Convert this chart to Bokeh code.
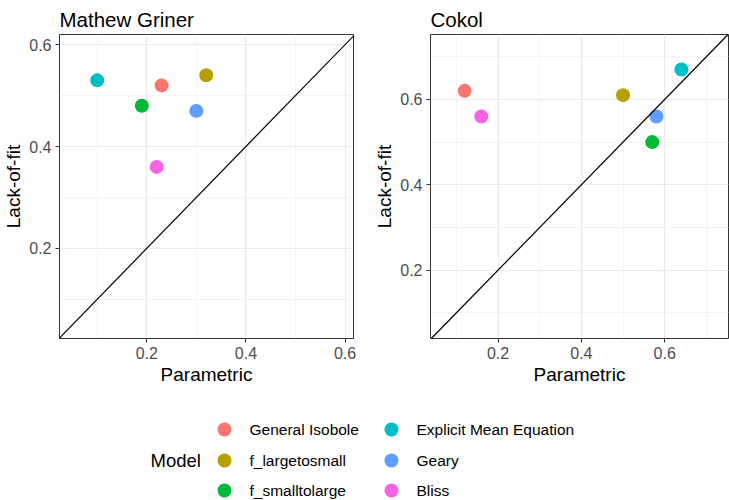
from bokeh.plotting import figure
from bokeh.models import Range1d, FixedTicker, Slope, ColumnDataSource
from bokeh.layouts import row, column
from bokeh.embed import file_html
from bokeh.resources import INLINE
from bokeh.core.properties import value

# ---------------- data ----------------
models = ["General Isobole", "f_largetosmall", "f_smalltolarge",
          "Explicit Mean Equation", "Geary", "Bliss"]
colors = ["#F8766D", "#B79F00", "#00BA38", "#00BFC4", "#619CFF", "#F564E3"]

mg_parametric = [0.23, 0.32, 0.19, 0.10, 0.30, 0.22]
mg_lackoffit = [0.52, 0.54, 0.48, 0.53, 0.47, 0.36]

ck_parametric = [0.12, 0.50, 0.57, 0.64, 0.58, 0.16]
ck_lackoffit = [0.62, 0.61, 0.50, 0.67, 0.56, 0.56]

major_ticks = [0.2, 0.4, 0.6]
minor_ticks = [0.1, 0.3, 0.5, 0.7]

FONT = "Liberation Sans"
FH = 304
TOP = 34
BOTTOM = 52


def panel(title, xs, ys, xr, yr, fw, bl, br):
    p = figure(width=bl + fw + br, height=TOP + FH + BOTTOM,
               output_backend="svg", toolbar_location=None,
               x_range=Range1d(*xr), y_range=Range1d(*yr), title=title,
               min_border_left=bl, min_border_right=br,
               min_border_top=TOP, min_border_bottom=BOTTOM)
    p.title.text_font = FONT
    p.title.text_font_size = "20.5px"
    p.title.text_font_style = "normal"
    p.title.text_color = "black"
    p.title.standoff = 7
    p.title.offset = 0
    p.background_fill_color = "white"
    p.border_fill_color = "white"
    p.outline_line_color = "#333333"
    p.outline_line_width = 1
    for ax in (p.xaxis[0], p.yaxis[0]):
        ax.ticker = FixedTicker(ticks=major_ticks, minor_ticks=minor_ticks)
        ax.axis_line_color = None
        ax.major_tick_line_color = "#333333"
        ax.major_tick_out = 4
        ax.major_tick_in = 0
        ax.minor_tick_line_color = None
        ax.major_label_text_font = FONT
        ax.major_label_text_font_size = "16px"
        ax.major_label_text_color = "#4D4D4D"
        ax.major_label_standoff = 4
        ax.axis_label_text_font = FONT
        ax.axis_label_text_font_size = "19px"
        ax.axis_label_text_font_style = "normal"
        ax.axis_label_text_color = "black"
        ax.axis_label_standoff = 2
    p.xaxis.axis_label = "Parametric"
    p.yaxis.axis_label = "Lack-of-fit"
    p.xgrid.grid_line_color = "#EBEBEB"
    p.ygrid.grid_line_color = "#EBEBEB"
    p.xgrid.grid_line_width = 1.2
    p.ygrid.grid_line_width = 1.2
    p.xgrid.minor_grid_line_color = "#EFEFEF"
    p.ygrid.minor_grid_line_color = "#EFEFEF"
    p.xgrid.minor_grid_line_width = 0.7
    p.ygrid.minor_grid_line_width = 0.7
    src = ColumnDataSource(dict(x=xs, y=ys, color=colors, model=models))
    p.scatter("x", "y", source=src, size=14, fill_color="color", line_color=None)
    p.add_layout(Slope(gradient=1, y_intercept=0, line_color="black", line_width=1.2))
    return p


p1 = panel("Mathew Griner", mg_parametric, mg_lackoffit,
           (0.024, 0.617), (0.023, 0.620), 296, 57, 12)
p2 = panel("Cokol", ck_parametric, ck_lackoffit,
           (0.038, 0.753), (0.040, 0.752), 298, 65, 1)

# ---------------- legend ----------------
LW = 729
LH = 109
leg = figure(width=LW, height=LH, output_backend="svg", toolbar_location=None,
             x_range=Range1d(0, LW), y_range=Range1d(LH, 0),
             min_border=0)
leg.axis.visible = False
leg.grid.visible = False
leg.outline_line_color = None
leg.background_fill_color = "white"
leg.border_fill_color = "white"

key_x = [224, 224, 224, 391, 391, 391]
key_y = [39, 70, 100, 39, 70, 100]
lab_x = [k + 25 for k in key_x]
lsrc = ColumnDataSource(dict(kx=key_x, ky=key_y, lx=lab_x, color=colors, model=models))
leg.scatter("kx", "ky", source=lsrc, size=14, fill_color="color", line_color=None)
leg.text("lx", "ky", text="model", source=lsrc, text_font=value(FONT),
         text_font_size="15.5px", text_baseline="middle", text_align="left",
         text_color="black")
leg.text(x=[150], y=[70], text=["Model"], text_font=value(FONT),
         text_font_size="18.5px", text_baseline="middle", text_align="left",
         text_color="black")

layout = column(row(p1, p2), leg)

open("out.html", "w").write(file_html(layout, INLINE))
